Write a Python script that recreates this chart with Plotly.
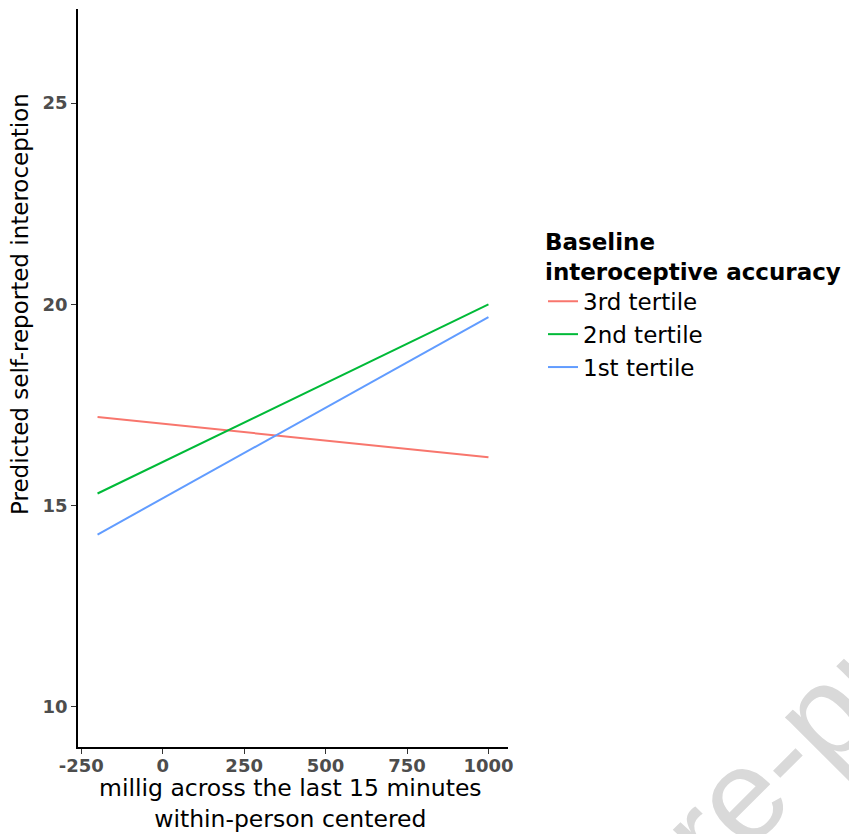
import plotly.graph_objects as go

# Data
groups = ["3rd tertile", "2nd tertile", "1st tertile"]
colors = ["#F8766D", "#00BA38", "#619CFF"]
x_vals = [-200, 1000]
y_3rd = [17.2, 16.2]
y_2nd = [15.3, 20.0]
y_1st = [14.28, 19.68]
series = [y_3rd, y_2nd, y_1st]

x_ticks = [-250, 0, 250, 500, 750, 1000]
y_ticks = [10, 15, 20, 25]

fig = go.Figure()
for name, col, ys in zip(groups, colors, series):
    fig.add_trace(go.Scatter(x=x_vals, y=ys, mode="lines", name=name,
                             line=dict(color=col, width=2)))

tickfont = dict(family="DejaVu Sans", size=18, color="#4D4D4D", weight="bold")

# page body has an 8px margin; plot area lands at screen x 78..508, y 9..747
fig.update_layout(
    width=849, height=826,
    margin=dict(l=70, r=349, t=1, b=87),
    paper_bgcolor="white", plot_bgcolor="white",
    showlegend=True,
    legend=dict(
        x=(543 - 78) / 430, y=(747 - 220) / 738, xanchor="left", yanchor="top",
        title=dict(text="<b>Baseline<br>interoceptive accuracy</b>",
                   font=dict(family="DejaVu Sans", size=23, color="black")),
        font=dict(family="DejaVu Sans", size=23, color="black"),
        traceorder="normal",
        bgcolor="rgba(0,0,0,0)",
    ),
    xaxis=dict(range=[-260, 1060], tickvals=x_ticks, ticktext=[str(v) for v in x_ticks],
               showgrid=False, zeroline=False, showline=True, linecolor="black", linewidth=1.8,
               ticks="outside", ticklen=5, tickwidth=1.1, tickcolor="#333333",
               ticklabelstandoff=-4, tickfont=tickfont),
    yaxis=dict(range=[9.0, 27.34], tickvals=y_ticks, ticktext=[str(v) for v in y_ticks],
               showgrid=False, zeroline=False, showline=True, linecolor="black", linewidth=1.8,
               ticks="outside", ticklen=5, tickwidth=1.1, tickcolor="#333333",
               tickfont=tickfont),
)

annos = [
    dict(text="millig across the last 15 minutes<br>within-person centered",
         x=(290 - 78) / 430, y=(747 - 804) / 738,
         xref="paper", yref="paper", showarrow=False, xanchor="center", yanchor="middle",
         font=dict(family="DejaVu Sans", size=23.5, color="black")),
    dict(text="Predicted self-reported interoception", x=(20 - 78) / 430, y=(747 - 304) / 738,
         xref="paper", yref="paper", showarrow=False, xanchor="center", yanchor="middle",
         textangle=-90, font=dict(family="DejaVu Sans", size=23, color="black")),
    dict(text="Journal Pre-proof", x=(650 - 78) / 430, y=(747 - 886) / 738,
         xref="paper", yref="paper", showarrow=False, xanchor="center", yanchor="middle",
         textangle=-45, font=dict(family="Liberation Sans", size=130, color="rgb(217,217,217)")),
]
fig.update_layout(annotations=annos)

fig.write_html("out.html")
